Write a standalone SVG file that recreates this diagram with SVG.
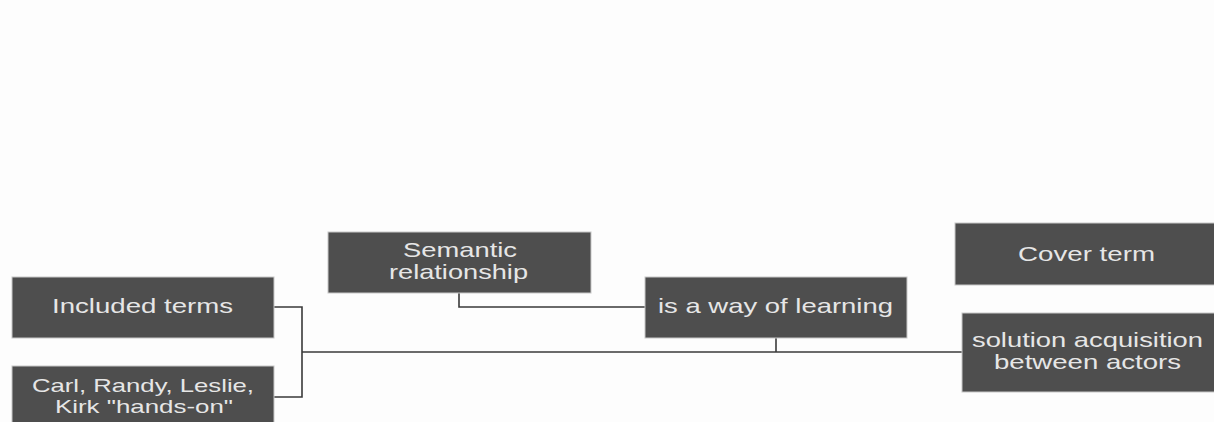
<svg xmlns="http://www.w3.org/2000/svg" width="1214" height="422" viewBox="0 0 1214 422">
<style>
.box{fill:#4e4e4e;stroke:#c8c8c8;stroke-width:1}
.t{font-family:"Liberation Sans",Arial,sans-serif;font-size:21px;fill:#e6e6e6}
.s{font-size:18.5px}
.c{fill:none;stroke:#3a3a3a;stroke-width:1.6}
</style>
<rect x="0" y="0" width="1214" height="422" fill="#fdfdfd"/>
<g id="connectors">
<polyline class="c" points="274,307 302,307 302,397 274,397"/>
<line class="c" x1="302" y1="352" x2="962" y2="352"/>
<polyline class="c" points="459,293 459,307 645,307"/>
<line class="c" x1="776" y1="338" x2="776" y2="352"/>
</g>
<g id="included">
<rect class="box" x="12" y="277" width="262" height="61"/>
<text class="t" x="52" y="313" textLength="181" lengthAdjust="spacingAndGlyphs">Included terms</text>
</g>
<g id="carl">
<rect class="box" x="12" y="366" width="262" height="64"/>
<text class="t s" x="32" y="392" textLength="222" lengthAdjust="spacingAndGlyphs">Carl, Randy, Leslie,</text>
<text class="t s" x="55" y="413" textLength="178" lengthAdjust="spacingAndGlyphs">Kirk "hands-on"</text>
</g>
<g id="semantic">
<rect class="box" x="328" y="232" width="263" height="61"/>
<text class="t" x="403" y="257" textLength="114" lengthAdjust="spacingAndGlyphs">Semantic</text>
<text class="t" x="389" y="279" textLength="139" lengthAdjust="spacingAndGlyphs">relationship</text>
</g>
<g id="isaway">
<rect class="box" x="645" y="277" width="262" height="61"/>
<text class="t" x="658" y="313" textLength="235" lengthAdjust="spacingAndGlyphs">is a way of learning</text>
</g>
<g id="cover">
<rect class="box" x="955" y="223" width="264" height="62"/>
<text class="t" x="1018" y="261" textLength="137" lengthAdjust="spacingAndGlyphs">Cover term</text>
</g>
<g id="solution">
<rect class="box" x="962" y="313" width="256" height="79"/>
<text class="t" x="972" y="347" textLength="231" lengthAdjust="spacingAndGlyphs">solution acquisition</text>
<text class="t" x="994" y="369" textLength="187" lengthAdjust="spacingAndGlyphs">between actors</text>
</g>
</svg>
